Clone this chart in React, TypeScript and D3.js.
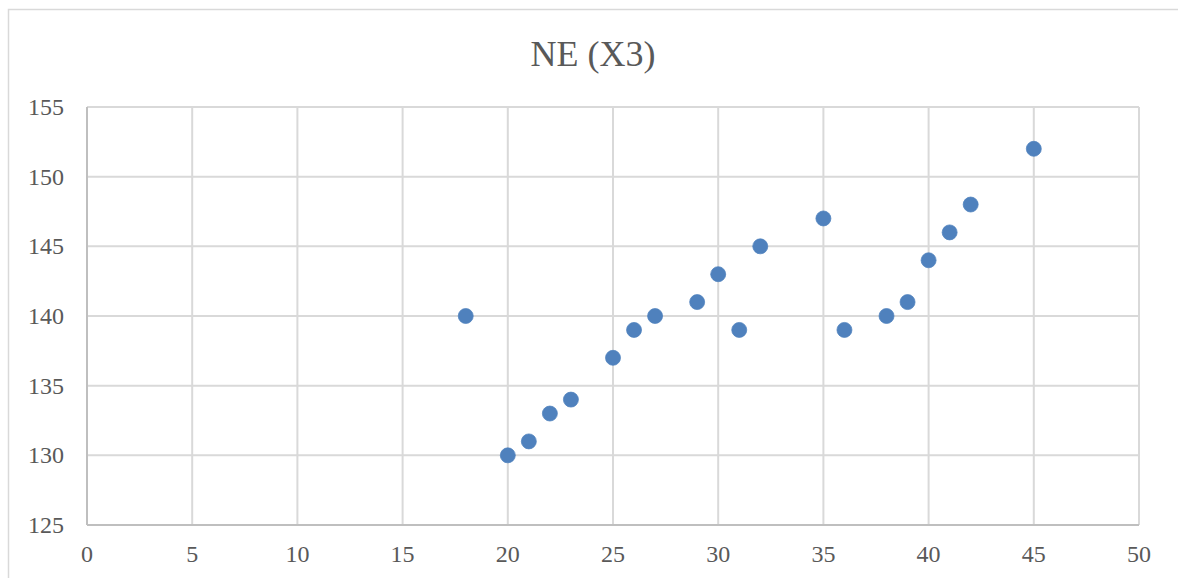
import React from "react";
import * as d3 from "d3";

const xValues = [18, 20, 21, 22, 23, 25, 26, 27, 29, 30, 31, 32, 35, 36, 38, 39, 40, 41, 42, 45];
const yValues = [140, 130, 131, 133, 134, 137, 139, 140, 141, 143, 139, 145, 147, 139, 140, 141, 144, 146, 148, 152];
const xTicks = [0, 5, 10, 15, 20, 25, 30, 35, 40, 45, 50];
const yTicks = [125, 130, 135, 140, 145, 150, 155];
const title = "NE (X3)";

const W = 1178;
const H = 578;
const font = "'Liberation Serif', 'DejaVu Serif', serif";

export default function App() {
  const x = d3.scaleLinear().domain([0, 50]).range([87, 1139]);
  const y = d3.scaleLinear().domain([125, 155]).range([525, 107]);
  const pts = xValues.map((v, i) => [v, yValues[i]]);
  return (
    <svg width={W} height={H} style={{ position: "absolute", left: 0, top: 0, background: "#fff" }}>
      <rect x={8.5} y={9.5} width={1300} height={700} fill="#fff" stroke="#d9d9d9" strokeWidth={1.5} />
      <text x={593} y={66} textAnchor="middle" fontFamily={font} fontSize={36} fill="#595959">{title}</text>
      {yTicks.map((t) => (
        <line key={"gy" + t} x1={x(0)} x2={x(50)} y1={y(t)} y2={y(t)} stroke="#d9d9d9" strokeWidth={2} />
      ))}
      {xTicks.map((t) => (
        <line key={"gx" + t} x1={x(t)} x2={x(t)} y1={y(125)} y2={y(155)} stroke="#d9d9d9" strokeWidth={2} />
      ))}
      <line x1={x(0)} x2={x(50)} y1={y(125)} y2={y(125)} stroke="#bfbfbf" strokeWidth={2} />
      <line x1={x(0)} x2={x(0)} y1={y(125)} y2={y(155)} stroke="#bfbfbf" strokeWidth={2} />
      {yTicks.map((t) => (
        <text key={"ly" + t} x={64} y={y(t) + 8} textAnchor="end" fontFamily={font} fontSize={24} fill="#595959">{t}</text>
      ))}
      {xTicks.map((t) => (
        <text key={"lx" + t} x={x(t)} y={562} textAnchor="middle" fontFamily={font} fontSize={24} fill="#595959">{t}</text>
      ))}
      {pts.map(([a, b], i) => (
        <circle key={i} cx={x(a)} cy={y(b)} r={7.5} fill="#4f81bd" stroke="#4f81bd" strokeWidth={0.75} />
      ))}
    </svg>
  );
}
